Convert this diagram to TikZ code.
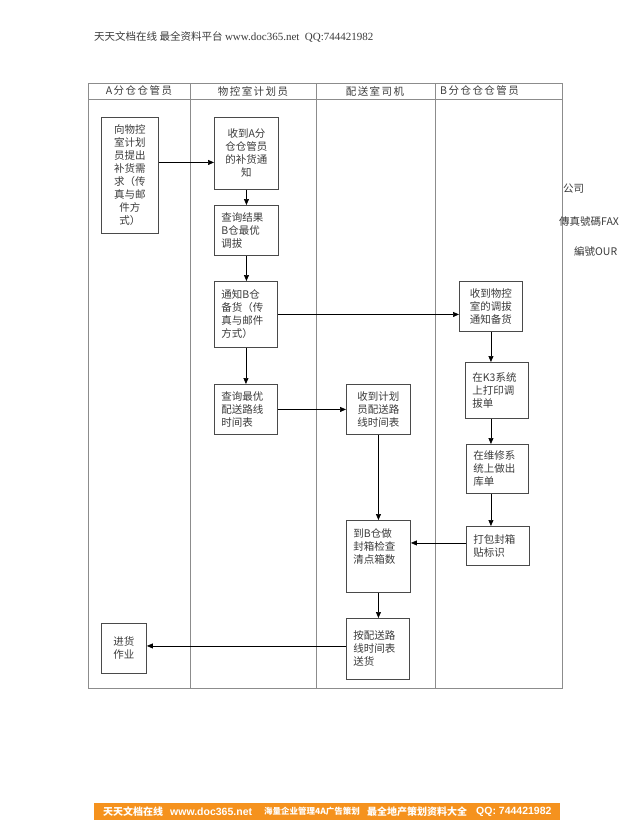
\documentclass[tikz,border=0pt]{standalone}
\usepackage{fontspec}
\setmainfont{Liberation Serif}
\newfontfamily\cjk{Noto Sans CJK SC}
\newfontfamily\cjkhead[LetterSpace=14]{Noto Sans CJK SC}
\newfontfamily\ftsans{Liberation Sans}
\usetikzlibrary{arrows.meta}
\definecolor{tablec}{HTML}{8C8C8C}
\definecolor{boxc}{HTML}{4A4A4A}
\definecolor{txtc}{HTML}{3A3A3A}
\definecolor{bannerc}{HTML}{F5921E}
\begin{document}
\begin{tikzpicture}[x=1pt,y=-1pt,
  box/.style={draw=boxc, line width=0.9pt, anchor=north west, inner xsep=7pt, inner ysep=2pt,
    font=\cjk\fontsize{10.5}{13}\selectfont, text=txtc},
  arr/.style={draw=black, line width=0.7pt, -{Triangle[length=6pt,width=5pt]}},
  head/.style={font=\cjkhead\fontsize{10.5}{12}\selectfont, text=txtc, inner sep=0pt},
  note/.style={font=\cjk\fontsize{10.5}{12}\selectfont, text=txtc, inner sep=0pt, anchor=west},
  foot/.style={text=white, inner sep=0pt, anchor=west}]
\useasboundingbox (0,0) rectangle (640,828);

% page header
\node[inner sep=0pt, anchor=west, text=txtc] (toptxt) at (94,37)
  {{\cjk\fontsize{10.5}{12}\selectfont 天天文档在线 最全资料平台}\ {\fontsize{11}{12}\selectfont www.doc365.net\ \ QQ:744421982}};

% swimlane table
\draw[tablec, line width=0.8pt] (88,83) rectangle (562,688);
\draw[tablec, line width=0.8pt] (88,99) -- (562,99);
\draw[tablec, line width=0.8pt] (190,83) -- (190,688);
\draw[tablec, line width=0.8pt] (316,83) -- (316,688);
\draw[tablec, line width=0.8pt] (435,83) -- (435,688);

\node[head] (h1) at (139,91) {A分仓仓管员};
\node[head] (h2) at (253,91) {物控室计划员};
\node[head] (h3) at (375,91) {配送室司机};
\node[head, anchor=west] (h4) at (440,91) {B分仓仓仓管员};

% boxes
\node[box, text width=43pt, minimum height=116pt, align=center] (a1) at (101,117)
  {向物控\\室计划\\员提出\\补货需\\求（传\\真与邮\\件方\\式）};
\node[box, text width=50pt, minimum height=72pt, align=center] (b1) at (214,117)
  {收到A分\\仓仓管员\\的补货通\\知};
\node[box, text width=50pt, minimum height=50pt, align=left] (b2) at (214,205)
  {查询结果\\B仓最优\\调拔};
\node[box, text width=49pt, minimum height=66pt, align=left] (b3) at (214,281)
  {通知B仓\\备货（传\\真与邮件\\方式）};
\node[box, text width=49pt, minimum height=50pt, align=left] (b4) at (214,384)
  {查询最优\\配送路线\\时间表};
\node[box, text width=50pt, minimum height=50pt, align=center] (c1) at (346,384)
  {收到计划\\员配送路\\线时间表};
\node[box, text width=50pt, minimum height=72pt, align=left] (c2) at (346,520)
  {到B仓做\\封箱检查\\清点箱数\\[8pt]\mbox{}};
\node[box, text width=49pt, minimum height=61pt, align=left] (c3) at (346,618)
  {按配送路\\线时间表\\送货};
\node[box, text width=49pt, minimum height=50pt, align=center] (d1) at (459,281)
  {收到物控\\室的调拔\\通知备货};
\node[box, text width=49pt, minimum height=56pt, align=left] (d2) at (465,362)
  {在K3系统\\上打印调\\拔单};
\node[box, text width=48pt, minimum height=49pt, align=left] (d3) at (466,444)
  {在维修系\\统上做出\\库单};
\node[box, text width=49pt, minimum height=39pt, align=left] (d4) at (466,526)
  {打包封箱\\贴标识};
\node[box, text width=31pt, minimum height=50pt, align=center] (a2) at (101,623)
  {进货\\作业};

% connectors
\draw[arr] ([yshift=13pt]a1.east) -- ([yshift=13pt]a1.east -| b1.west);
\draw[arr] (b1.south) -- (b1.south |- b2.north);
\draw[arr] (b2.south) -- (b2.south |- b3.north);
\draw[arr] (b3.south) -- (b3.south |- b4.north);
\draw[arr] (b3.east) -- (b3.east -| d1.west);
\draw[arr] (b4.east) -- (b4.east -| c1.west);
\draw[arr] (d1.south) -- (d1.south |- d2.north);
\draw[arr] (d2.south -| d1.south) -- (d3.north -| d1.south);
\draw[arr] (d3.south -| d1.south) -- (d4.north -| d1.south);
\draw[arr] (c1.south) -- (c1.south |- c2.north);
\draw[arr] ([yshift=3pt]d4.west) -- ([yshift=3pt]d4.west -| c2.east);
\draw[arr] (c2.south) -- (c2.south |- c3.north);
\draw[arr] ([yshift=3pt]c3.west) -- ([yshift=3pt]c3.west -| a2.east);

% stray notes on the right
\node[note] (n1) at (563,189) {公司};
\node[note] (n2) at (559,222) {傳真號碼FAX};
\node[note] (n3) at (574,251) {編號OUR};

% footer banner
\fill[bannerc] (94,803) rectangle (560,820);
\node[foot, font=\cjk\bfseries\fontsize{10}{12}\selectfont] (f1) at (103,811.5) {天天文档在线};
\node[foot, font=\ftsans\bfseries\fontsize{10.5}{12}\selectfont] (f2) at (170,811.5) {www.doc365.net};
\node[foot, font=\cjk\bfseries\fontsize{8.5}{10}\selectfont] (f3) at (264,811.5) {海量企业管理4A广告策划};
\node[foot, font=\cjk\bfseries\fontsize{10}{12}\selectfont] (f4) at (367,811.5) {最全地产策划资料大全};
\node[foot, font=\ftsans\bfseries\fontsize{10.5}{12}\selectfont] (f5) at (476,811.5) {QQ: 744421982};
\end{tikzpicture}
\end{document}
